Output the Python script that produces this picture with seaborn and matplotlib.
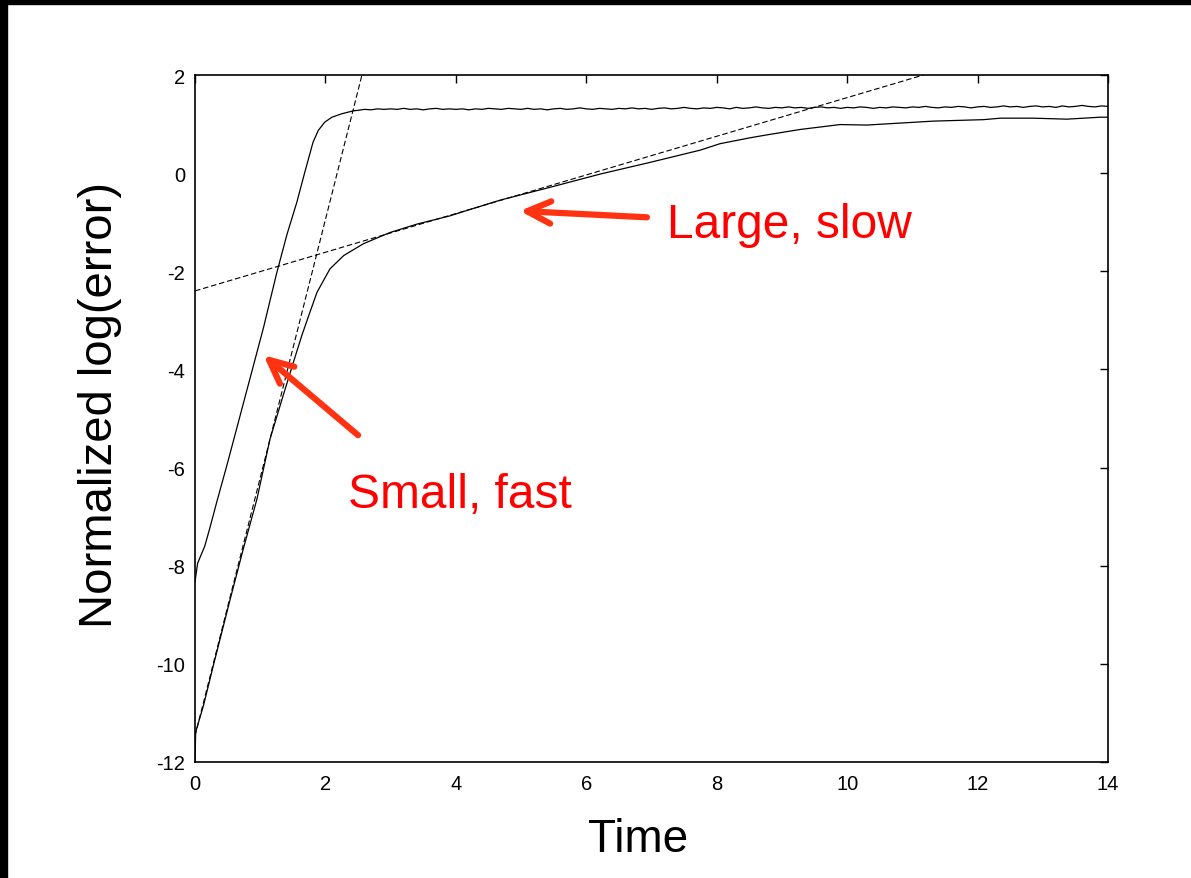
"""Normalized log(error) against time: small/fast and large/slow error modes."""

import numpy as np
import pandas as pd
import matplotlib
matplotlib.use("Agg")
import matplotlib.pyplot as plt
from matplotlib.patches import Rectangle
import seaborn as sns


# --------------------------------------------------------
#       DATA
# --------------------------------------------------------

# fast mode: steep rise, then noisy plateau
fast_rise_t = [0.0, 0.04, 0.15, 0.23, 0.33, 0.5, 0.66, 0.84, 1.05, 1.25,
               1.41, 1.56, 1.69, 1.81, 1.89, 1.99, 2.10, 2.25, 2.43]
fast_rise_y = [-8.33, -7.95, -7.6, -7.22, -6.72, -5.9, -5.1, -4.2, -3.15, -2.05,
               -1.25, -0.6, 0.05, 0.63, 0.87, 1.04, 1.14, 1.21, 1.27]

# plateau sampled every 0.1 from t=2.5 to t=14
PLATEAU_T0 = 2.5
PLATEAU_DT = 0.1
plateau_y = [1.28, 1.30, 1.29, 1.31, 1.30, 1.31,
             1.30, 1.32, 1.30, 1.31, 1.29, 1.31, 1.32, 1.30, 1.31, 1.30,
             1.31, 1.29, 1.31, 1.30, 1.32, 1.31, 1.30, 1.32, 1.31, 1.30,
             1.32, 1.30, 1.31, 1.29, 1.31, 1.32, 1.30, 1.31, 1.33, 1.31,
             1.30, 1.32, 1.31, 1.30, 1.32, 1.31, 1.33, 1.31, 1.32, 1.30,
             1.32, 1.33, 1.31, 1.32, 1.34, 1.32, 1.31, 1.33, 1.32, 1.34,
             1.33, 1.31, 1.34, 1.32, 1.33, 1.35, 1.33, 1.32, 1.34, 1.33,
             1.35, 1.33, 1.34, 1.32, 1.34, 1.35, 1.33, 1.34, 1.32, 1.34,
             1.33, 1.35, 1.34, 1.32, 1.34, 1.33, 1.35, 1.34, 1.33, 1.35,
             1.34, 1.36, 1.34, 1.33, 1.35, 1.34, 1.36, 1.35, 1.33, 1.35,
             1.36, 1.34, 1.35, 1.37, 1.35, 1.36, 1.34, 1.36, 1.37, 1.35,
             1.36, 1.34, 1.37, 1.35, 1.36, 1.38, 1.36, 1.35, 1.37, 1.36]

# slow mode
slow_t = [0.0, 0.01, 0.13, 0.28, 0.54, 0.74, 0.95, 1.15, 1.35, 1.51,
          1.64, 1.75, 1.87, 2.07, 2.28, 2.58, 2.99, 3.40, 3.91, 4.17,
          4.68, 5.44, 6.21, 6.98, 7.75, 8.05, 8.51, 8.77, 9.28, 9.89,
          10.30, 11.32, 12.09, 12.35, 12.86, 13.37, 13.88, 14.0]
slow_y = [-12.0, -11.39, -10.85, -10.04, -8.68, -7.66, -6.64, -5.42, -4.54, -3.85,
          -3.3, -2.88, -2.43, -1.95, -1.68, -1.44, -1.21, -1.04, -0.87, -0.76,
          -0.55, -0.29, -0.02, 0.22, 0.47, 0.60, 0.72, 0.78, 0.89, 0.99,
          0.98, 1.06, 1.09, 1.12, 1.12, 1.10, 1.14, 1.14]

# straight-line fits (dashed)
fit_fast_t = [0.0, 2.56]
fit_fast_y = [-11.47, 2.0]
fit_slow_t = [0.0, 11.17]
fit_slow_y = [-2.4, 2.0]

# annotations: (text position, arrow tail, arrow tip)
label_large = "Large, slow"
large_text_xy = (7.24, -1.30)
large_tail = (6.93, -0.90)
large_tip = (4.98, -0.77)

label_small = "Small, fast"
small_text_xy = (2.35, -6.80)
small_tail = (2.50, -5.34)
small_tip = (1.05, -3.71)

x_ticks = [0, 2, 4, 6, 8, 10, 12, 14]
y_ticks = [2, 0, -2, -4, -6, -8, -10, -12]


# --------------------------------------------------------
#       PLOT
# --------------------------------------------------------

sns.set_theme(style="white")
plt.rcParams['font.family'] = ['Liberation Sans', 'DejaVu Sans']
plt.rcParams['axes.unicode_minus'] = False

plateau_t = PLATEAU_T0 + PLATEAU_DT * np.arange(len(plateau_y))
fast = pd.DataFrame({'t': list(fast_rise_t) + list(plateau_t),
                     'y': list(fast_rise_y) + list(plateau_y)})
slow = pd.DataFrame({'t': slow_t, 'y': slow_y})

fig = plt.figure(figsize=(11.91, 8.79), dpi=100)
ax = fig.add_axes([195 / 1191, 1 - 763 / 879, 913 / 1191, 687 / 879])

sns.lineplot(data=fast, x='t', y='y', ax=ax, color='black', lw=0.9,
             estimator=None, sort=False)
sns.lineplot(data=slow, x='t', y='y', ax=ax, color='black', lw=0.9,
             estimator=None, sort=False)
for ft, fy in [(fit_fast_t, fit_fast_y), (fit_slow_t, fit_slow_y)]:
    line = sns.lineplot(x=ft, y=fy, ax=ax, color='black', lw=0.8,
                        estimator=None, sort=False)
    line.lines[-1].set_dashes((5, 2.5))

ax.set(xlim=(0, 14), ylim=(-12, 2))
ax.set_xticks(x_ticks)
ax.set_yticks(y_ticks)
ax.tick_params(direction='in', length=6, width=1.0, top=True, right=True,
               labelsize=14.5, colors='black')
ax.tick_params(axis='x', pad=9)
ax.tick_params(axis='y', pad=7)
for sp in ax.spines.values():
    sp.set_linewidth(1.2)
    sp.set_color('black')

ax.set_xlabel("Time", fontsize=33, color='black')
ax.set_ylabel("Normalized log(error)", fontsize=34, color='black')
ax.xaxis.set_label_coords(0.485, -0.080)
ax.yaxis.set_label_coords(-0.080, 0.521)

arrow_color = '#ff3311'
for tail, tip in [(large_tail, large_tip), (small_tail, small_tip)]:
    ax.annotate('', xy=tip, xytext=tail,
                arrowprops=dict(arrowstyle='->,head_length=0.85,head_width=0.4',
                                mutation_scale=20, lw=4.5, color=arrow_color,
                                shrinkA=0, shrinkB=0, capstyle='round'))
ax.text(*large_text_xy, label_large, color='#ff0000', fontsize=34.5,
        ha='left', va='baseline')
ax.text(*small_text_xy, label_small, color='#ff0000', fontsize=34.5,
        ha='left', va='baseline')

# dark frame strips at the top and left of the slide
fig.patches.append(Rectangle((0, 1 - 5 / 879), 1, 5 / 879, transform=fig.transFigure,
                             color='black', zorder=10))
fig.patches.append(Rectangle((0, 0), 7 / 1191, 1, transform=fig.transFigure,
                             color='black', zorder=10))

fig.savefig("out.png", dpi=100)
